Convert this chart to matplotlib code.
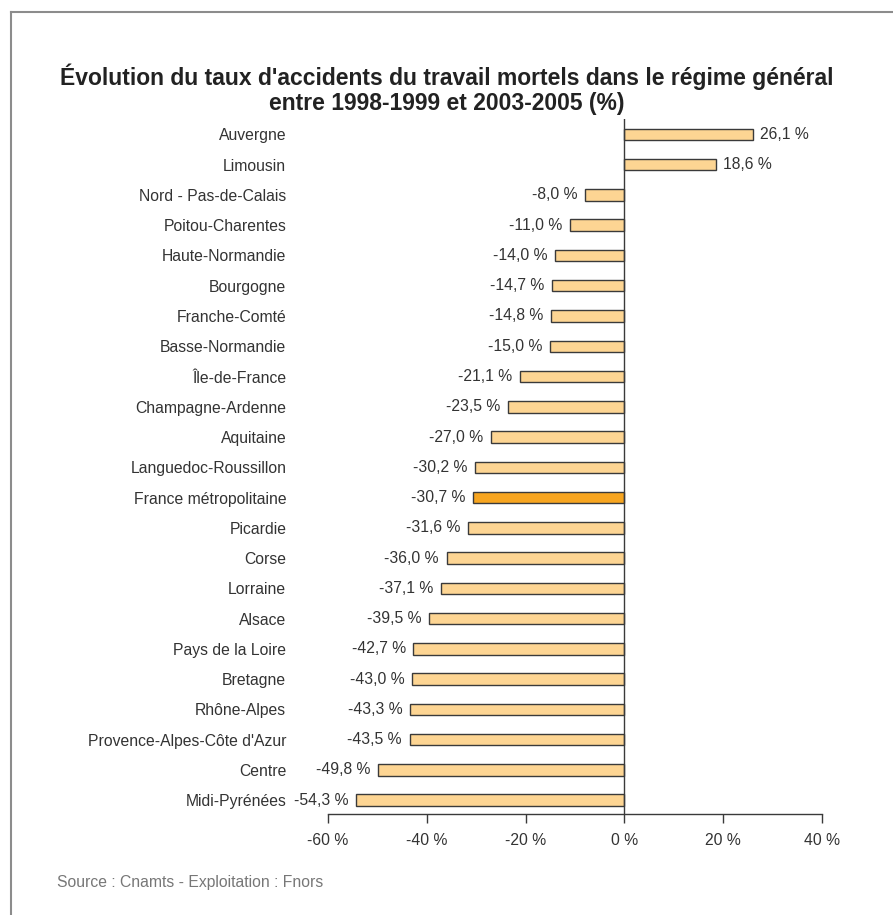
import numpy as np
import matplotlib.pyplot as plt
from matplotlib.lines import Line2D

plt.rcParams['font.family'] = ['Liberation Sans', 'DejaVu Sans']

regions = ["Auvergne", "Limousin", "Nord - Pas-de-Calais", "Poitou-Charentes",
           "Haute-Normandie", "Bourgogne", "Franche-Comté", "Basse-Normandie",
           "Île-de-France", "Champagne-Ardenne", "Aquitaine", "Languedoc-Roussillon",
           "France métropolitaine", "Picardie", "Corse", "Lorraine", "Alsace",
           "Pays de la Loire", "Bretagne", "Rhône-Alpes", "Provence-Alpes-Côte d'Azur",
           "Centre", "Midi-Pyrénées"]
evolution = [26.1, 18.6, -8.0, -11.0, -14.0, -14.7, -14.8, -15.0, -21.1, -23.5,
             -27.0, -30.2, -30.7, -31.6, -36.0, -37.1, -39.5, -42.7, -43.0, -43.3,
             -43.5, -49.8, -54.3]
highlight = "France métropolitaine"
xticks = [-60, -40, -20, 0, 20, 40]

text_col = '#333333'
fig = plt.figure(figsize=(8.93, 9.15), dpi=100)
ax = fig.add_axes([0.3673, 0.1104, 0.5532, 0.7595])

y = np.arange(len(regions))
colors = ['#f7a520' if r == highlight else '#fdd593' for r in regions]
ax.barh(y, evolution, height=0.38, color=colors, edgecolor='#3a3a3a', linewidth=1.0, zorder=2)

# value labels next to each bar
for yi, v in zip(y, evolution):
    txt = f"{v:.1f}".replace('.', ',') + " %"
    if v >= 0:
        ax.annotate(txt, (v, yi), xytext=(5, 0), textcoords='offset points',
                    ha='left', va='center', fontsize=11.3, color=text_col)
    else:
        ax.annotate(txt, (v, yi), xytext=(-5.5, 0), textcoords='offset points',
                    ha='right', va='center', fontsize=11.3, color=text_col)

ax.set_xlim(-60, 40)
ax.set_ylim(len(regions) - 1 + 0.46, -0.51)
ax.axvline(0, color='#3a3a3a', linewidth=1.0, zorder=3)

ax.set_xticks(xticks)
ax.set_xticklabels([f"{t} %" for t in xticks])
ax.set_yticks(y)
ax.set_yticklabels(regions)
ax.tick_params(axis='x', length=6.5, width=1.0, color='#3a3a3a', pad=7,
               labelsize=11.3, labelcolor=text_col)
ax.tick_params(axis='y', length=0, pad=30, labelsize=11.3, labelcolor=text_col)

for side in ['top', 'right', 'left']:
    ax.spines[side].set_visible(False)
ax.spines['bottom'].set_color('#3a3a3a')
ax.spines['bottom'].set_linewidth(1.0)

fig.text(0.5, 1 - 89 / 915, "Évolution du taux d'accidents du travail mortels dans le régime général\n"
         "entre 1998-1999 et 2003-2005 (%)", ha='center', va='center',
         fontsize=16.5, fontweight='bold', color='#222222', linespacing=1.12)
fig.text(57 / 893, 1 - 883 / 915, "Source : Cnamts - Exploitation : Fnors",
         ha='left', va='center', fontsize=11.3, color='#777777')

# open frame: top and left edges only
fig.add_artist(Line2D([11 / 893, 1.0], [1 - 12 / 915, 1 - 12 / 915],
                      transform=fig.transFigure, color='#8c8c8c', linewidth=1.5))
fig.add_artist(Line2D([11 / 893, 11 / 893], [1 - 12 / 915, 0.0],
                      transform=fig.transFigure, color='#8c8c8c', linewidth=1.5))

plt.savefig("out.png", dpi=100)
